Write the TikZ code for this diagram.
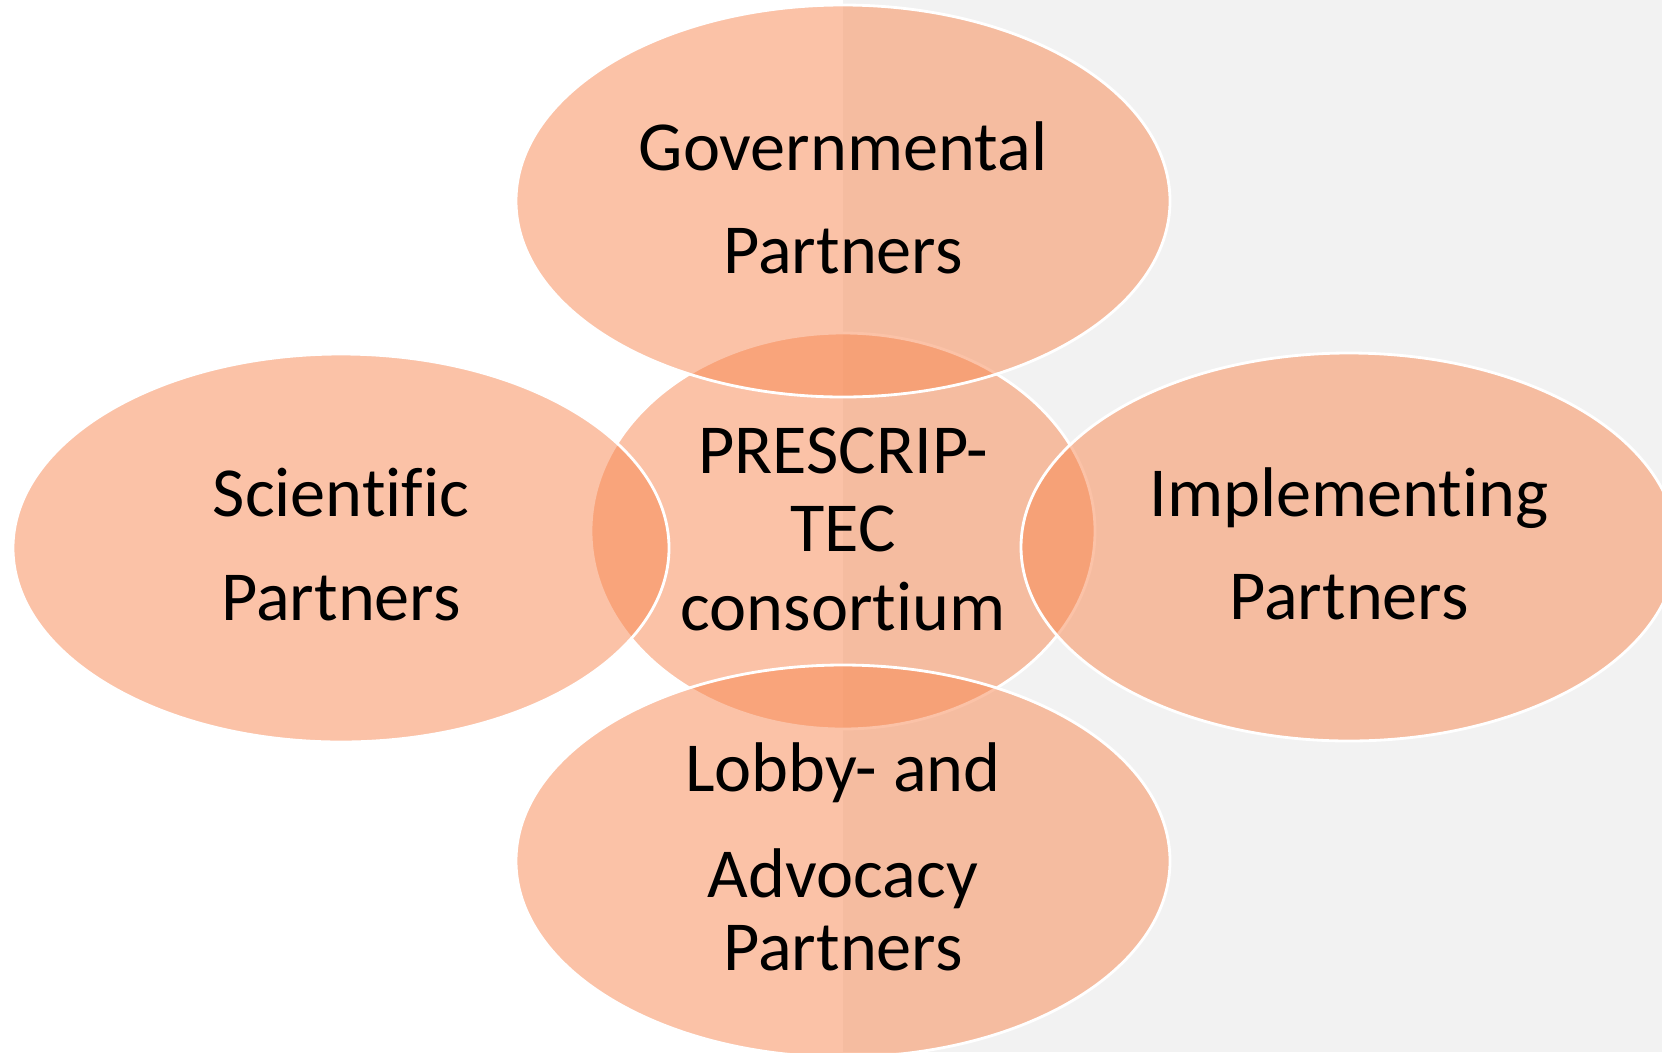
\documentclass[tikz,border=0pt]{standalone}
\usepackage{fontspec}
\setmainfont[Ligatures={NoCommon}]{Carlito}
\definecolor{partnerfill}{RGB}{248,135,80}
\definecolor{pagegrey}{RGB}{242,242,242}

\begin{document}
\begin{tikzpicture}[x=0.02cm, y=-0.02cm,
    partner/.style={fill=partnerfill, fill opacity=0.5, draw=white, line width=1.6pt},
    partnertext/.style={anchor=base, inner sep=0pt, text=black, font=\fontsize{40}{48}\selectfont}]
    % page and background halves
    \path[use as bounding box] (0,0) rectangle (1662,1052);
    \clip (0,0) rectangle (1662,1052);
    \fill[white] (0,0) rectangle (843,1052);
    \fill[pagegrey] (843,0) rectangle (1662,1052);

    \coordinate (C) at (843,531);
    \coordinate (G) at (843,201);
    \coordinate (S) at (341,548);
    \coordinate (I) at (1349,547);
    \coordinate (L) at (843,861);

    % ellipses, centre first
    \draw[partner] (C) ellipse [x radius=252, y radius=198];
    \draw[partner] (G) ellipse [x radius=327, y radius=196];
    \draw[partner] (S) ellipse [x radius=328, y radius=194];
    \draw[partner] (I) ellipse [x radius=328, y radius=194];
    \draw[partner] (L) ellipse [x radius=327, y radius=196];

    % texts
    \node[partnertext] (c1) at (843,473) {PRESCRIP-};
    \node[partnertext] (c2) at (843,551) {TEC};
    \node[partnertext] (c3) at (843,630) {consortium};

    \node[partnertext] (g1) at (843,170) {Governmental};
    \node[partnertext] (g2) at (843,273) {Partners};

    \node[partnertext] (s1) at (341,516) {Scientific};
    \node[partnertext] (s2) at (341,620) {Partners};

    \node[partnertext] (i1) at (1349,516) {Implementing};
    \node[partnertext] (i2) at (1349,619) {Partners};

    \node[partnertext] (l1) at (843,791) {Lobby- and};
    \node[partnertext] (l2) at (843,897) {Advocacy};
    \node[partnertext] (l3) at (843,970) {Partners};
\end{tikzpicture}
\end{document}
